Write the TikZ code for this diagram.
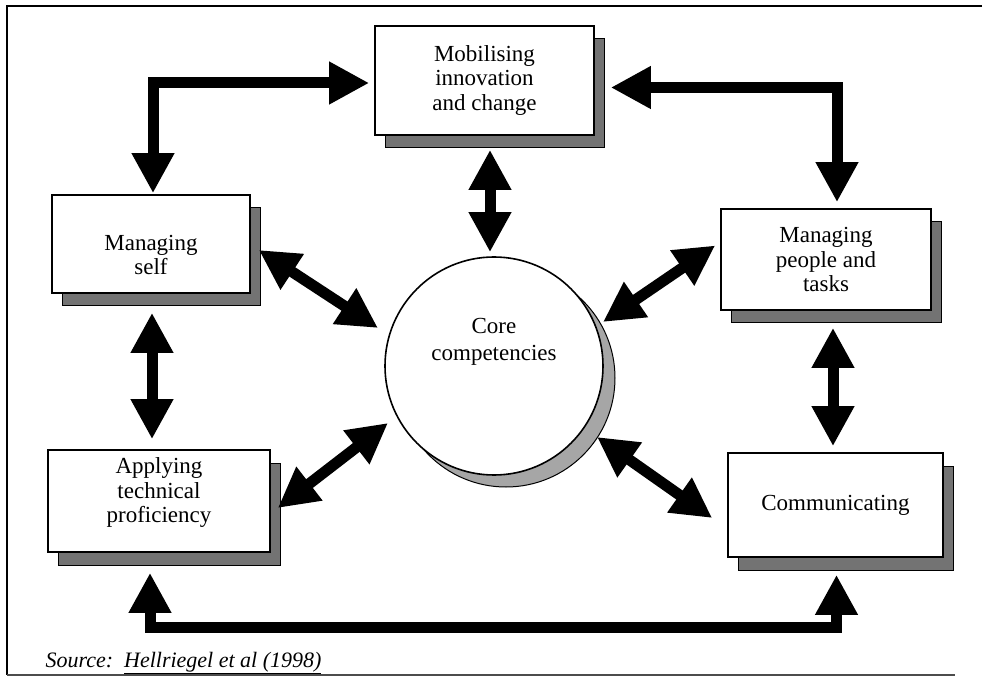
\documentclass[tikz,border=0pt]{standalone}
\usepackage{fontspec}
\setmainfont{Liberation Serif}
\usetikzlibrary{arrows.meta,calc,shadows}
\begin{document}
\begin{tikzpicture}[x=1pt,y=-1pt,
  box/.style={draw,line width=1.6pt,fill=white,inner sep=0pt,align=center,
    font=\fontsize{23}{24.5}\selectfont,
    copy shadow={shadow xshift=10pt,shadow yshift=-13pt,fill=black!55,draw=black,line width=1pt}},
  txt/.style={inner sep=0pt,align=center,font=\fontsize{23}{24.5}\selectfont},
  corecirc/.style={circle,draw,line width=1.6pt,fill=white,inner sep=0pt,align=center,
    minimum size=218pt,font=\fontsize{23}{27}\selectfont,
    copy shadow={shadow xshift=12pt,shadow yshift=-12pt,fill=black!35,draw=black,line width=1pt}},
  biarrow/.style={line width=11pt,{Triangle[length=40pt,width=40pt]}-{Triangle[length=40pt,width=40pt]}}
]
\useasboundingbox (0,0) rectangle (986,676);
% frame
\draw[line width=1.5pt] (982,6) -- (7,6) -- (7,675);
\draw[line width=1.2pt,black!70] (7,675) -- (955,675);

% nodes
\node[box,minimum width=219pt,minimum height=109pt] (mob) at (484.5,80.5) {Mobilising\\innovation\\and change};
\node[box,minimum width=198pt,minimum height=98pt] (self) at (151,244) {};
\node[txt] (selftext) at ($(self.center)+(0,11)$) {Managing\\self};
\node[box,minimum width=210pt,minimum height=101pt] (people) at (826,259.5) {Managing\\people and\\tasks};
\node[box,minimum width=215pt,minimum height=104pt] (comm) at (835.5,505) {Communicating};
\node[box,minimum width=222pt,minimum height=102pt] (apply) at (159,501) {};
\node[txt] (applytext) at ($(apply.center)+(0,-8)$) {Applying\\technical\\proficiency};
\node[corecirc] (core) at (494,366) {Core\\competencies\\[26pt]};

% connectors
\draw[biarrow] ($(self.north)+(2,-1)$) |- ($(mob.west)+(-5,2.5)$);
\draw[biarrow] ($(mob.east)+(16,7)$) -| ($(people.north)+(11,-6)$);
\draw[biarrow] ($(mob.south)+(5.5,14)$) -- ($(core.north)+(-4,-4)$);
\draw[biarrow] ($(self.east)+(8,6)$) -- ($(core.center)+(-116,-38)$);
\draw[biarrow] ($(people.west)+(-5,-14)$) -- ($(core.center)+(109,-44)$);
\draw[biarrow] ($(apply.east)+(7,7)$) -- ($(core.center)+(-106,57)$);
\draw[biarrow] ($(comm.west)+(-15,13)$) -- ($(core.center)+(103,71)$);
\draw[biarrow] ($(self.south)+(1,19)$) -- ($(apply.north)+(-7,-10)$);
\draw[biarrow] ($(people.south)+(7,17)$) -- ($(comm.north)+(-2.5,-6)$);
\draw[biarrow] ($(apply.south)+(-9,20)$) -- ++(0,55) -| ($(comm.south)+(1,17)$);

% source
\node[anchor=base west,font=\itshape\fontsize{22}{24}\selectfont] (src) at (42,667)
  {Source:\ \ \underline{Hellriegel et al (1998)}};
\end{tikzpicture}
\end{document}
